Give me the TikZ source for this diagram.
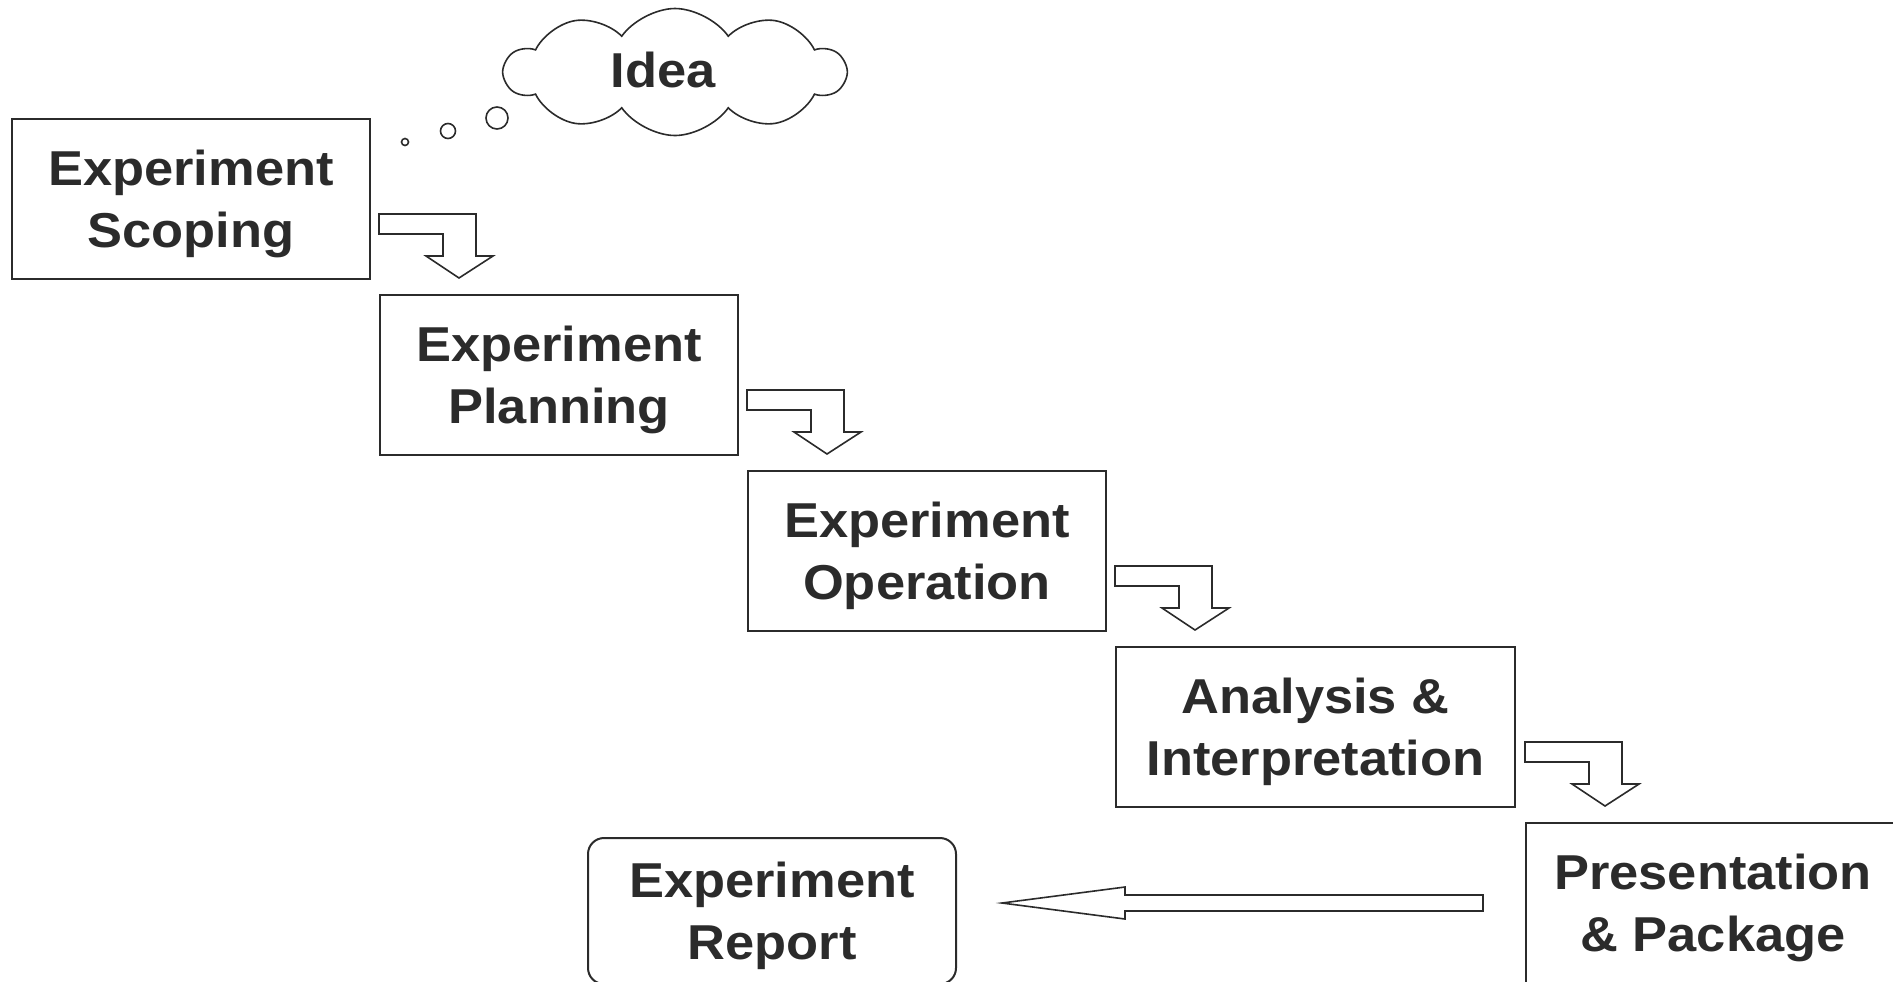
\documentclass[tikz,border=0pt]{standalone}
\usepackage{fontspec}
\setmainfont[FakeStretch=1.07]{Liberation Sans}
\usepackage{tikz}
\usetikzlibrary{positioning,calc,shapes.symbols}
\definecolor{ink}{HTML}{2B2B2B}

\begin{document}
\begin{tikzpicture}[x=0.5pt,y=-0.5pt,node distance=2cm,on grid]
       \tikzstyle{stage}=[draw=ink, text=ink, line width=1pt, align=center,
                          minimum width=179pt, minimum height=80pt, text depth=0pt,
                          font=\bfseries\fontsize{24.5}{31}\selectfont]
       \tikzstyle{hollow}=[draw=ink, line width=0.8pt, fill=white, line join=miter]

       \useasboundingbox (0,0) rectangle (1893,981);
       \clip (0,0) rectangle (1893,981);

       \node[stage] (scope) at (191,199) {Experiment\\Scoping};
       \node[stage] (plan) [below right=88pt and 184pt of scope] {Experiment\\Planning};
       \node[stage] (oper) [below right=88pt and 184pt of plan] {Experiment\\Operation};
       \node[stage, minimum width=199.5pt] (anal) [below right=88pt and 194.25pt of oper] {Analysis \&\\Interpretation};
       \node[stage, minimum width=187pt] (pres) [below right=88pt and 198.75pt of anal] {Presentation\\\& Package};
       \node[stage, rounded corners=8pt, minimum width=184pt, minimum height=73pt] (report)
             [below left=4pt and 470.5pt of pres] {Experiment\\Report};

       \node[cloud, draw=ink, line width=0.8pt, cloud puffs=10, cloud puff arc=110, aspect=2.7,
             minimum width=170pt, minimum height=63.5pt,
             label={[text=ink, xshift=-6pt, yshift=1pt, font=\bfseries\fontsize{24.5}{31}\selectfont]center:Idea}]
             (idea) at (675,72) {};
       \draw[ink, line width=0.8pt] (405,142) circle[radius=1.75pt]
                                    (448,131) circle[radius=3.75pt]
                                    (497,118) circle[radius=5.5pt];

       \foreach \nxt in {plan,oper,anal,pres}
         \draw[hollow] ($(\nxt.north west)+(0,-80)$) -- ++(97,0) -- ++(0,42) -- ++(17,0)
               -- ++(-34,22) -- ++(-33,-22) -- ++(17,0) -- ++(0,-22) -- ++(-64,0) -- cycle;

       \coordinate (tail) at ($(pres.west)+(-42,0)$);
       \coordinate (tip) at ($(report.east)+(45,-8)$);
       \draw[hollow] ($(tail)+(0,-8)$) -- ($(tip)+(123,-8)$) -- ($(tip)+(123,-16)$) -- (tip)
             -- ($(tip)+(123,16)$) -- ($(tip)+(123,8)$) -- ($(tail)+(0,8)$) -- cycle;
     \end{tikzpicture}
\end{document}
